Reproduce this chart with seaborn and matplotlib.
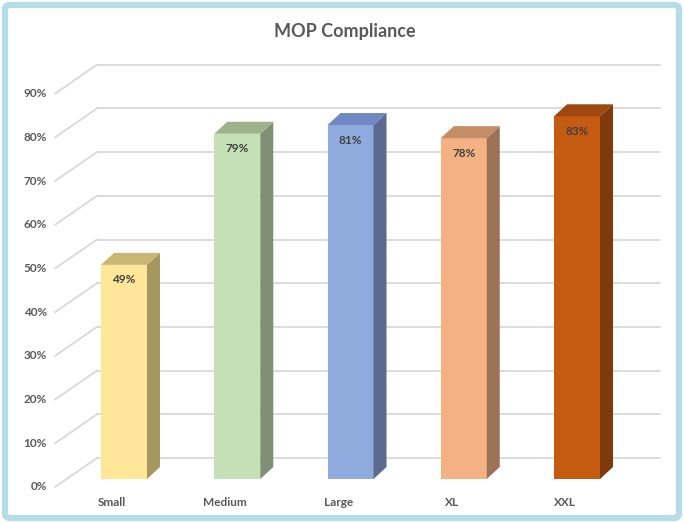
import matplotlib
matplotlib.use("Agg")
import matplotlib.pyplot as plt
import seaborn as sns
import pandas as pd
from matplotlib.patches import Polygon, FancyBboxPatch

categories = ["Small", "Medium", "Large", "XL", "XXL"]
values = [49, 79, 81, 78, 83]
value_labels = ["49%", "79%", "81%", "78%", "83%"]
y_ticks = [0, 10, 20, 30, 40, 50, 60, 70, 80, 90]
front_colors = ["#FFE699", "#C5E0B4", "#8FAADC", "#F4B183", "#C55A11"]
side_colors = ["#A6965F", "#7F8F73", "#5B6B8F", "#9E7256", "#7F3A0B"]
top_colors = ["#C9B675", "#9DB48B", "#7189C3", "#C58C68", "#9E4710"]

sns.set_theme(style="white")
plt.rcParams['font.family'] = ['Lato', 'DejaVu Sans']

W, H = 684, 523
fig = plt.figure(figsize=(W / 100, H / 100), dpi=100)
fig.patch.set_facecolor("white")

# pixel mapping of the bar front plane
px0, pxstep = 124.0, 113.25      # x pixel of category 0 centre, spacing
py0, pyper = 479.0, 4.37         # y pixel of 0%, px per %
L, R, T, B = 20, 675, 55, 500
ax = fig.add_axes([L / W, (H - B) / H, (R - L) / W, (B - T) / H])
ax.set_xlim((L - px0) / pxstep, (R - px0) / pxstep)
ax.set_ylim((py0 - B) / pyper, (py0 - T) / pyper)
ax.axis("off")

def dxp(px):
    return px / pxstep

def dyp(px):
    return px / pyper

df = pd.DataFrame({"cat": categories, "val": values})
sns.barplot(data=df, x="cat", y="val", hue="cat", palette=front_colors,
            width=46 / pxstep, dodge=False, legend=False, ax=ax,
            saturation=1, zorder=3, linewidth=0)
ax.set_xlim((L - px0) / pxstep, (R - px0) / pxstep)
ax.set_ylim((py0 - B) / pyper, (py0 - T) / pyper)

# gridlines (walls)
back_dx, back_dy = dxp(30.4), dyp(21)
front_dx, front_dy = dxp(-11.6), dyp(-8)
x_left_front = dxp(55 - px0)
x_left_back = dxp(97 - px0)
x_right_back = dxp(660 - px0)
gcol = "#D9D9D9"
for t in y_ticks:
    yb = t + back_dy
    yf = t + front_dy
    ax.plot([x_left_front, x_left_back], [yf, yb], color=gcol, lw=1.3, zorder=1)
    ax.plot([x_left_back, x_right_back], [yb, yb], color=gcol, lw=1.3, zorder=1)
    ax.text(dxp(47 - px0), yf, f"{t}%", ha="right", va="center",
            fontsize=8.5, fontweight="bold", color="#595959")

# 3D faces
ddx, ddy = dxp(13), dyp(12)
for i, p in enumerate(ax.patches):
    x0 = p.get_x()
    w = p.get_width()
    h = p.get_height()
    x1 = x0 + w
    side = Polygon([(x1, 0), (x1 + ddx, ddy), (x1 + ddx, h + ddy), (x1, h)],
                   closed=True, facecolor=side_colors[i], edgecolor="none", zorder=3)
    top = Polygon([(x0, h), (x1, h), (x1 + ddx, h + ddy), (x0 + ddx, h + ddy)],
                  closed=True, facecolor=top_colors[i], edgecolor="none", zorder=3)
    ax.add_patch(side)
    ax.add_patch(top)
    ax.text(x0 + w / 2, h - dyp(15), value_labels[i], ha="center", va="center",
            fontsize=8.5, fontweight="bold", color="#404040", zorder=5)
    ax.text(x0 + w / 2 - dxp(12), dyp(479 - 503), categories[i], ha="center",
            va="center", fontsize=8.5, fontweight="bold", color="#595959")

fig.text(345 / W, 1 - 32 / H, "MOP Compliance", ha="center", va="center",
         fontsize=13, fontweight="bold", color="#595959")

border = FancyBboxPatch((5 / W, 5 / H), (W - 10) / W, (H - 10) / H,
                        boxstyle="round,pad=0,rounding_size=0.008",
                        transform=fig.transFigure, facecolor="none",
                        edgecolor="#B4DDE8", linewidth=4.5)
fig.patches.append(border)

fig.savefig("out.png", dpi=100)
